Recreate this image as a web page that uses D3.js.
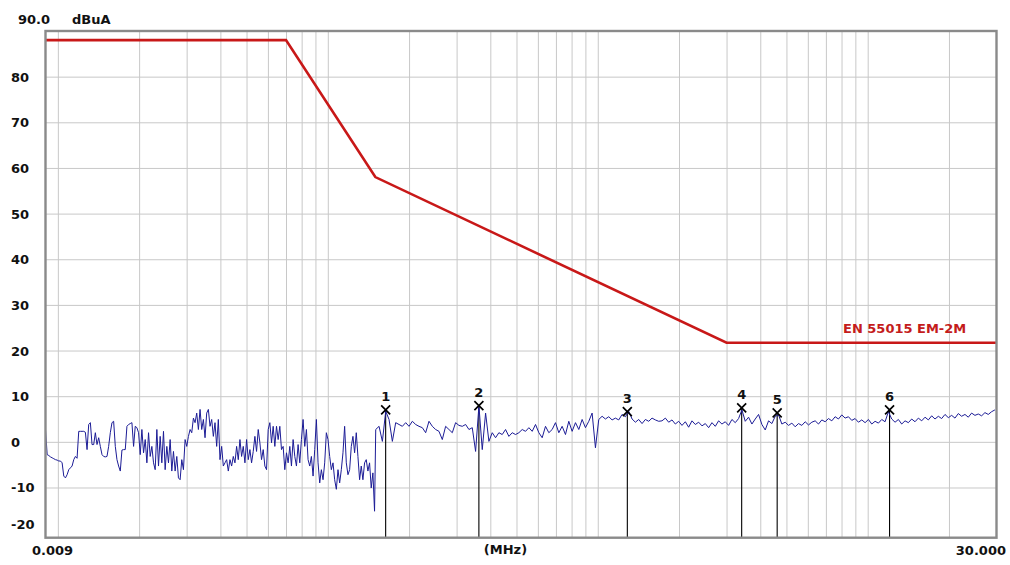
<!DOCTYPE html>
<html><head><meta charset="utf-8">
<script src="https://cdn.jsdelivr.net/npm/d3@7/dist/d3.min.js"></script>
<style>
body{margin:0;background:#fff}
text{font-family:"DejaVu Sans",sans-serif;font-weight:bold;font-size:13px;fill:#111}
</style></head><body>
<svg id="c" width="1010" height="565"></svg>
<script>
// ---- data ----
const xDomain = [0.009, 30];          // MHz
const yDomain = [-21, 90];            // dBuA
const gridFreqs = [0.01,0.02,0.03,0.04,0.05,0.06,0.07,0.08,0.09,0.1,0.2,0.3,0.4,0.5,0.6,0.7,0.8,0.9,1,2,3,4,5,6,7,8,9,10,20];
const gridLevels = [-10,0,10,20,30,40,50,60,70,80];
const yTickLabels = ["80","70","60","50","40","30","20","10","0","-10","-20"];
const yTickValues = [80,70,60,50,40,30,20,10,0,-10,-20];

const limitFreqs = [0.009, 0.07, 0.15, 3.0, 30];
const limitValues = [88, 88, 58, 21.7, 21.7];
const limitName = "EN 55015 EM-2M";

// sweep 1: 0.009 .. 0.149 MHz (log-spaced sweep points)
const sweep1Range = [0.009, 0.149];
const sweep1Values = [
2.7,-2.8,-3.0,-3.3,-3.5,-3.7,-3.9,-4.0,-4.2,-4.2,
-4.6,-7.5,-7.9,-7.2,-6.1,-5.7,-5.3,-3.9,-3.2,-3.6,
2.3,2.3,2.3,2.3,2.1,-1.7,3.8,4.2,-0.6,-0.6,
2.0,-0.6,0.9,-1.0,-2.8,-3.2,-3.3,-3.2,-1.0,2.0,
4.2,4.5,-1.0,-3.9,-5.3,-6.4,-1.8,-1.7,-1.7,3.4,
3.8,4.0,4.2,-1.0,3.4,3.1,2.0,-2.8,2.7,-2.4,
0.5,-4.6,2.0,-3.2,-1.0,-4.6,-6.1,2.7,-5.3,1.2,
-4.6,2.3,-6.1,-1.0,-4.6,0.5,-6.4,-2.1,-6.4,-3.2,
-7.9,-8.3,-3.9,-6.1,0.5,-1.0,1.2,2.7,2.0,5.2,
4.2,6.3,2.7,7.1,2.7,4.9,0.9,6.3,7.1,3.4,
4.9,1.2,4.2,-1.0,4.9,-3.9,-1.0,-5.3,-4.6,-3.9,
-6.4,-3.9,-5.3,-3.2,-4.6,-1.0,-3.9,0.5,-3.2,-1.0,
-4.6,0.5,-3.9,-1.7,-4.6,-2.1,1.2,-2.1,2.7,-0.2,
-3.9,-1.7,-5.3,-6.1,2.7,4.2,-0.2,3.4,-1.0,3.4,
0.5,3.4,-1.7,-1.0,-6.1,-2.4,-4.6,-1.0,-5.3,0.5,
-3.2,-5.3,-0.6,-4.6,0.5,4.9,-1.0,2.7,-3.9,-5.3,
-3.2,-7.5,-1.7,4.9,-4.6,-9.0,-6.1,-8.3,-4.6,2.0,
0.5,-3.2,-6.1,-4.6,-8.3,-10.4,-6.1,-9.0,-6.1,-2.4,
3.4,-4.6,-7.2,-6.1,-1.0,1.2,-2.4,2.0,-3.2,-8.3,
-5.3,-8.3,-4.6,-3.9,-6.4,-4.6,-10.1,-6.8,-15.2
];

// sweep 2: 0.1505 .. 29.6 MHz (log-spaced sweep points)
const sweep2Range = [0.1505, 29.6];
const sweep2Values = [
2.7,3.4,0.1,6.7,4.9,0.1,4.2,3.8,3.4,4.2,
3.4,4.5,3.8,3.4,3.1,2.0,4.5,3.4,2.7,2.3,
0.5,3.4,2.7,2.0,4.2,3.6,3.4,3.8,2.7,3.1,
-2.1,7.9,-1.7,6.3,0.1,2.0,0.9,2.0,1.6,2.7,
1.2,2.0,1.6,2.0,2.7,2.3,3.1,2.3,3.8,2.0,
0.9,3.4,2.0,2.7,4.2,2.0,3.4,1.6,4.5,2.3,
4.2,2.7,4.9,3.1,4.5,6.3,-1.3,4.9,5.6,5.0,
5.5,4.8,5.2,4.8,6.0,5.5,6.7,5.0,4.3,4.9,
4.0,4.9,4.5,5.2,4.8,4.5,
4.6,5.2,4.3,4.8,3.9,4.5,3.6,4.4,3.2,4.6,
3.8,4.3,3.5,4.0,3.1,4.2,3.4,4.6,3.9,4.4,
3.6,4.9,4.2,5.1,7.0,4.5,5.4,3.9,5.0,6.0,
3.8,2.6,4.6,4.0,5.6,5.9,3.9,4.3,3.6,4.1,
3.3,4.0,3.6,4.4,3.7,4.3,4.6,3.9,4.8,4.4,
5.1,4.6,5.5,5.0,5.9,5.2,5.5,4.7,5.1,4.3,
4.8,4.2,4.9,3.9,4.5,4.1,4.9,4.4,6.6,5.0,
4.3,4.9,3.9,4.6,4.2,5.0,4.4,5.2,4.6,5.4,
4.8,5.7,5.0,5.6,5.1,6.0,5.3,5.8,5.2,6.2,
5.6,6.0,5.4,6.3,5.8,6.1,5.7,6.4,6.0,6.6,
7.0
];

const markerLabels = ["1","2","3","4","5","6"];
const markerFreqs = [0.1638, 0.3628, 1.287, 3.413, 4.62, 12.05];
const markerValues = [7.0, 7.95, 6.6, 7.45, 6.35, 7.0];

// ---- drawing ----
const svg = d3.select("#c");
const x = d3.scaleLog().domain(xDomain).range([45.5, 996.5]);
const y = d3.scaleLinear().domain(yDomain).range([537.7, 31]);
const [x0, x1] = x.range();
const [yb, yt] = y.range();

svg.append("rect").attr("width",1010).attr("height",565).attr("fill","#fff");

// grid via axes
const gv = svg.append("g").attr("transform",`translate(0,${yb})`)
  .call(d3.axisBottom(x).tickValues(gridFreqs).tickSize(-(yb-yt)).tickFormat(""));
gv.select(".domain").remove();
gv.selectAll("line").attr("stroke","#c8c8c8").attr("stroke-width",1);

const gh = svg.append("g").attr("transform",`translate(${x0},0)`)
  .call(d3.axisLeft(y).tickValues(gridLevels).tickSize(-(x1-x0)).tickFormat(""));
gh.select(".domain").remove();
gh.selectAll("line").attr("stroke","#c8c8c8").attr("stroke-width",1);

// sweep points
function sweep(range, vals){
  const n = vals.length, a = range[0], b = range[1];
  return vals.map((v,i)=>({f: a*Math.pow(b/a, i/(n-1)), v}));
}
const trace = sweep(sweep1Range, sweep1Values).concat(sweep(sweep2Range, sweep2Values));

const line = d3.line().x(d=>x(d.f)).y(d=>y(d.v));

// marker lines
markerFreqs.forEach((f,i)=>{
  svg.append("line").attr("x1",x(f)).attr("x2",x(f))
    .attr("y1",y(markerValues[i])).attr("y2",yb)
    .attr("stroke","#000").attr("stroke-width",1.1);
});

svg.append("path").datum(trace).attr("d",line)
  .attr("fill","none").attr("stroke","#1c1c96").attr("stroke-width",1);

// limit line
const limit = limitFreqs.map((f,i)=>({f, v: limitValues[i]}));
svg.append("path").datum(limit).attr("d",line)
  .attr("fill","none").attr("stroke","#c81818").attr("stroke-width",2.6);

svg.append("text").attr("x",843).attr("y",y(limitValues[4])-9.5)
  .style("fill","#c41c1c").text(limitName);

// markers
markerFreqs.forEach((f,i)=>{
  const cx = x(f), cy = y(markerValues[i]);
  const g = svg.append("g");
  g.append("path").attr("d",`M${cx-4.5},${cy-4.5}L${cx+4.5},${cy+4.5}M${cx+4.5},${cy-4.5}L${cx-4.5},${cy+4.5}`)
    .attr("stroke","#000").attr("stroke-width",1.7);
  g.append("text").attr("x",cx).attr("y",cy-8.5).attr("text-anchor","middle").text(markerLabels[i]);
});

// frame
svg.append("rect").attr("x",x0).attr("y",yt).attr("width",x1-x0).attr("height",yb-yt)
  .attr("fill","none").attr("stroke","#8a8a8a").attr("stroke-width",2.4);

// y labels
yTickValues.forEach((v,i)=>{
  const yy = v === -20 ? y(v) - 4 : y(v) + 5;
  svg.append("text").attr("x", 11).attr("y", yy).text(yTickLabels[i]);
});
svg.append("text").attr("x",18).attr("y",23.5).text("90.0");
svg.append("text").attr("x",72).attr("y",23.5).text("dBuA");

// x labels
svg.append("text").attr("x",32).attr("y",555).text("0.009");
svg.append("text").attr("x",505.5).attr("y",554).attr("text-anchor","middle").text("(MHz)");
svg.append("text").attr("x",1006).attr("y",555).attr("text-anchor","end").text("30.000");
</script>
</body></html>
